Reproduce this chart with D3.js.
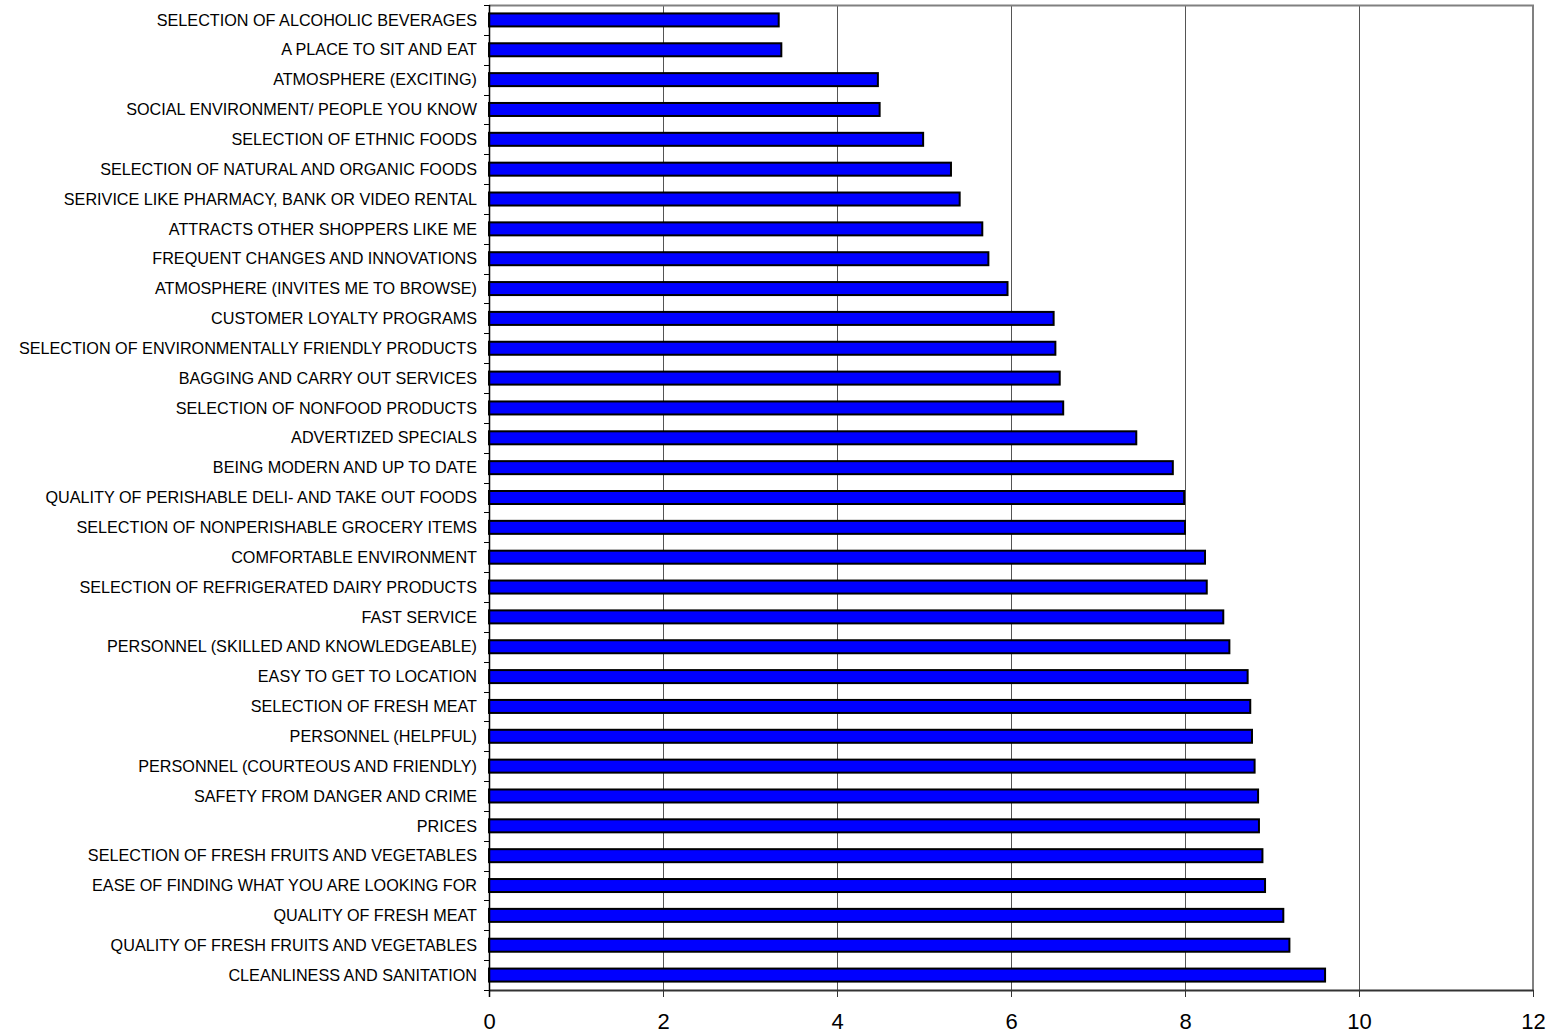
<!DOCTYPE html>
<html>
<head>
<meta charset="utf-8">
<script src="https://cdn.jsdelivr.net/npm/d3@7"></script>
<style>
  html, body { margin: 0; padding: 0; background: #fff; }
  svg { display: block; font-family: "Liberation Sans", Arial, sans-serif; }
</style>
</head>
<body>
<svg id="chart" width="1554" height="1035"></svg>
<script>
// Attributes rated by shoppers, top to bottom as listed
const categories = [
  "SELECTION OF ALCOHOLIC BEVERAGES",
  "A PLACE TO SIT AND EAT",
  "ATMOSPHERE (EXCITING)",
  "SOCIAL ENVIRONMENT/ PEOPLE YOU KNOW",
  "SELECTION OF ETHNIC FOODS",
  "SELECTION OF NATURAL AND ORGANIC FOODS",
  "SERIVICE LIKE PHARMACY, BANK OR VIDEO RENTAL",
  "ATTRACTS OTHER SHOPPERS LIKE ME",
  "FREQUENT CHANGES AND INNOVATIONS",
  "ATMOSPHERE (INVITES ME TO BROWSE)",
  "CUSTOMER LOYALTY PROGRAMS",
  "SELECTION OF ENVIRONMENTALLY FRIENDLY PRODUCTS",
  "BAGGING AND CARRY OUT SERVICES",
  "SELECTION OF NONFOOD PRODUCTS",
  "ADVERTIZED SPECIALS",
  "BEING MODERN AND UP TO DATE",
  "QUALITY OF PERISHABLE DELI- AND TAKE OUT FOODS",
  "SELECTION OF NONPERISHABLE GROCERY ITEMS",
  "COMFORTABLE ENVIRONMENT",
  "SELECTION OF REFRIGERATED DAIRY PRODUCTS",
  "FAST SERVICE",
  "PERSONNEL (SKILLED AND KNOWLEDGEABLE)",
  "EASY TO GET TO LOCATION",
  "SELECTION OF FRESH MEAT",
  "PERSONNEL (HELPFUL)",
  "PERSONNEL (COURTEOUS AND FRIENDLY)",
  "SAFETY FROM DANGER AND CRIME",
  "PRICES",
  "SELECTION OF FRESH FRUITS AND VEGETABLES",
  "EASE OF FINDING WHAT YOU ARE LOOKING FOR",
  "QUALITY OF FRESH MEAT",
  "QUALITY OF FRESH FRUITS AND VEGETABLES",
  "CLEANLINESS AND SANITATION"
];

// Importance scores, same order as categories
const scores = [
  3.33, 3.36, 4.47, 4.49, 4.99, 5.31, 5.41, 5.67, 5.74, 5.96,
  6.49, 6.51, 6.56, 6.60, 7.44, 7.86, 7.99, 8.00, 8.23, 8.25,
  8.44, 8.51, 8.72, 8.75, 8.77, 8.80, 8.84, 8.85, 8.89, 8.92,
  9.13, 9.20, 9.61
];

const xTicks = [0, 2, 4, 6, 8, 10, 12];

const data = categories.map((c, i) => ({ label: c, value: scores[i] }));

const margin = { top: 5, right: 21, bottom: 45, left: 489 };
const width = 1554, height = 1035;
const innerW = width - margin.left - margin.right;
const innerH = height - margin.top - margin.bottom;
const barH = 13;

const svg = d3.select("#chart");
const g = svg.append("g").attr("transform", `translate(${margin.left},${margin.top})`);

const x = d3.scaleLinear().domain([0, 12]).range([0, innerW]);
const y = d3.scaleBand().domain(categories).range([0, innerH]);
const band = y.bandwidth();

// vertical gridlines
g.append("g")
  .selectAll("line")
  .data(xTicks.filter(t => t > 0 && t < 12))
  .join("line")
  .attr("x1", d => Math.round(x(d)) + 0.5)
  .attr("x2", d => Math.round(x(d)) + 0.5)
  .attr("y1", 0)
  .attr("y2", innerH)
  .attr("stroke", "#555")
  .attr("stroke-width", 1);

// plot frame (top and right)
g.append("path")
  .attr("d", `M0,0.5H${innerW}V${innerH}`)
  .attr("fill", "none")
  .attr("stroke", "#808080")
  .attr("stroke-width", 2);

// bars
g.append("g")
  .selectAll("rect")
  .data(data)
  .join("rect")
  .attr("x", x(0))
  .attr("y", d => y(d.label) + (band - barH) / 2)
  .attr("width", d => x(d.value) - x(0))
  .attr("height", barH)
  .attr("fill", "#0000ff")
  .attr("stroke", "#000")
  .attr("stroke-width", 2);

// bottom axis
const xAxis = g.append("g")
  .attr("transform", `translate(0,${innerH})`)
  .call(d3.axisBottom(x).tickValues(xTicks).tickSize(7).tickSizeOuter(0).tickPadding(16));
xAxis.select(".domain").attr("stroke", "#333").attr("stroke-width", 2);
xAxis.selectAll(".tick line").attr("stroke", "#333");
xAxis.selectAll("text")
  .style("font-size", "22px")
  .style("font-family", "'Liberation Sans', Arial, sans-serif")
  .attr("fill", "#000");

// left category axis: ticks between categories
const yAxis = g.append("g");
yAxis.append("line")
  .attr("x1", 0.5).attr("x2", 0.5)
  .attr("y1", 0).attr("y2", innerH + 7)
  .attr("stroke", "#000").attr("stroke-width", 1.5);
yAxis.selectAll(".tk")
  .data(d3.range(categories.length + 1))
  .join("line")
  .attr("class", "tk")
  .attr("x1", -5).attr("x2", 0)
  .attr("y1", i => Math.round(i * band) + 0.5)
  .attr("y2", i => Math.round(i * band) + 0.5)
  .attr("stroke", "#000").attr("stroke-width", 1);
yAxis.selectAll(".lbl")
  .data(data)
  .join("text")
  .attr("class", "lbl")
  .attr("x", -12)
  .attr("y", d => y(d.label) + band / 2)
  .attr("dy", "0.35em")
  .attr("text-anchor", "end")
  .style("font-size", "16.2px")
  .attr("fill", "#000")
  .text(d => d.label);
</script>
</body>
</html>
